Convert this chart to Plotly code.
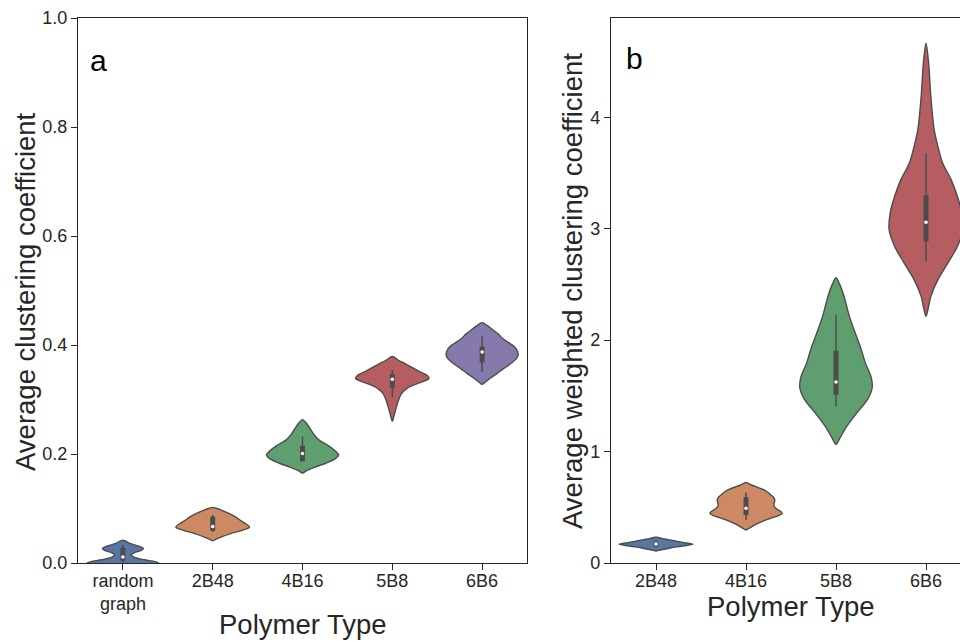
import plotly.graph_objects as go

# ---------------------------------------------------------------------------
# Data
# ---------------------------------------------------------------------------
# Panel a: average clustering coefficient per polymer type
a_categories = ["random<br>graph", "2B48", "4B16", "5B8", "6B6"]

# Kernel density outlines: levels (value axis) and relative density (0..1)
a_random_levels = [0.042, 0.036, 0.031, 0.027, 0.023, 0.019, 0.015, 0.011, 0.006, 0.0, -0.008, -0.018, -0.028, -0.036]
a_random_density = [0.0, 0.19, 0.43, 0.56, 0.50, 0.31, 0.22, 0.30, 0.58, 0.97, 1.0, 0.72, 0.29, 0.0]

a_2b48_levels = [0.102, 0.098, 0.092, 0.085, 0.078, 0.072, 0.066, 0.060, 0.054, 0.048, 0.043, 0.041]
a_2b48_density = [0.0, 0.20, 0.41, 0.61, 0.76, 0.90, 1.0, 0.80, 0.49, 0.24, 0.07, 0.0]

a_4b16_levels = [0.263, 0.255, 0.245, 0.235, 0.225, 0.215, 0.205, 0.198, 0.191, 0.183, 0.176, 0.170, 0.165]
a_4b16_density = [0.0, 0.12, 0.22, 0.32, 0.46, 0.71, 0.90, 0.98, 0.88, 0.63, 0.34, 0.12, 0.0]

a_5b8_levels = [0.379, 0.372, 0.365, 0.358, 0.350, 0.344, 0.339, 0.334, 0.328, 0.320, 0.310, 0.295, 0.280, 0.268, 0.260]
a_5b8_density = [0.0, 0.17, 0.37, 0.56, 0.78, 0.95, 1.0, 0.88, 0.63, 0.39, 0.24, 0.15, 0.085, 0.037, 0.0]

a_6b6_levels = [0.441, 0.435, 0.428, 0.420, 0.412, 0.404, 0.397, 0.390, 0.383, 0.375, 0.366, 0.357, 0.348, 0.340, 0.334, 0.328]
a_6b6_density = [0.0, 0.15, 0.29, 0.44, 0.56, 0.73, 0.88, 0.95, 0.98, 0.93, 0.78, 0.59, 0.41, 0.24, 0.12, 0.0]

# Box statistics for panel a
a_whisker_low = [0.0, 0.057, 0.186, 0.304, 0.351]
a_q1 = [0.004, 0.059, 0.187, 0.322, 0.368]
a_median = [0.011, 0.067, 0.201, 0.337, 0.387]
a_q3 = [0.028, 0.085, 0.215, 0.347, 0.397]
a_whisker_high = [0.033, 0.088, 0.232, 0.354, 0.4165]

# Panel b: average weighted clustering coefficient per polymer type
b_categories = ["2B48", "4B16", "5B8", "6B6"]

b_2b48_levels = [0.231, 0.215, 0.200, 0.185, 0.168, 0.150, 0.135, 0.120, 0.108]
b_2b48_density = [0.0, 0.24, 0.49, 0.73, 1.0, 0.68, 0.39, 0.17, 0.0]

b_4b16_levels = [0.722, 0.700, 0.685, 0.660, 0.635, 0.610, 0.585, 0.560, 0.535, 0.510, 0.485, 0.460, 0.445, 0.425, 0.400, 0.375, 0.350, 0.325, 0.305, 0.296]
b_4b16_density = [0.0, 0.15, 0.27, 0.46, 0.59, 0.68, 0.76, 0.78, 0.76, 0.76, 0.83, 0.95, 0.98, 0.88, 0.66, 0.46, 0.29, 0.15, 0.05, 0.0]

b_5b8_levels = [2.56, 2.50, 2.39, 2.24, 2.09, 1.94, 1.79, 1.67, 1.57, 1.465, 1.345, 1.225, 1.135, 1.08, 1.065]
b_5b8_density = [0.0, 0.10, 0.22, 0.34, 0.49, 0.66, 0.80, 0.95, 0.98, 0.85, 0.56, 0.29, 0.13, 0.04, 0.0]

b_6b6_levels = [4.663, 4.49, 4.19, 3.89, 3.74, 3.59, 3.44, 3.29, 3.14, 2.99, 2.84, 2.69, 2.54, 2.39, 2.27, 2.213]
b_6b6_density = [0.0, 0.07, 0.13, 0.22, 0.32, 0.45, 0.68, 0.85, 0.97, 1.0, 0.85, 0.59, 0.32, 0.13, 0.05, 0.0]

# Box statistics for panel b
b_whisker_low = [0.14, 0.386, 1.404, 2.707]
b_q1 = [0.150, 0.431, 1.509, 2.884]
b_median = [0.170, 0.491, 1.623, 3.058]
b_q3 = [0.188, 0.590, 1.905, 3.300]
b_whisker_high = [0.200, 0.632, 2.228, 3.675]

# ---------------------------------------------------------------------------
# Styling
# ---------------------------------------------------------------------------
W, H = 960, 641
FONT = "Liberation Sans, Arial, sans-serif"
INK = "#262626"
EDGE = "#4c4c4c"
HALF_WIDTH = 0.41  # half width of the widest violin, in category units
a_colors = ["#5875a4", "#cc8963", "#5f9e6e", "#b55d60", "#857aab"]
b_colors = ["#5875a4", "#cc8963", "#5f9e6e", "#b55d60"]

a_profiles = [
    (a_random_levels, a_random_density),
    (a_2b48_levels, a_2b48_density),
    (a_4b16_levels, a_4b16_density),
    (a_5b8_levels, a_5b8_density),
    (a_6b6_levels, a_6b6_density),
]
b_profiles = [
    (b_2b48_levels, b_2b48_density),
    (b_4b16_levels, b_4b16_density),
    (b_5b8_levels, b_5b8_density),
    (b_6b6_levels, b_6b6_density),
]

fig = go.Figure()


def add_violins(profiles, colors, wl, q1, med, q3, wh, xref, yref):
    for i, (levels, dens) in enumerate(profiles):
        # right edge top -> bottom, then left edge bottom -> top
        xs = [i + d * HALF_WIDTH for d in dens] + [i - d * HALF_WIDTH for d in reversed(dens[1:-1])] + [i]
        ys = list(levels) + list(reversed(levels[1:-1])) + [levels[0]]
        fig.add_trace(go.Scatter(
            x=xs, y=ys, xaxis=xref, yaxis=yref, mode="lines",
            line=dict(color=EDGE, width=1.4, shape="spline", smoothing=0.9),
            fill="toself", fillcolor=colors[i], hoverinfo="skip", showlegend=False,
        ))
        # whisker
        fig.add_trace(go.Scatter(
            x=[i, i], y=[wl[i], wh[i]], xaxis=xref, yaxis=yref, mode="lines",
            line=dict(color=EDGE, width=1.5), hoverinfo="skip", showlegend=False,
        ))
        # interquartile box
        fig.add_trace(go.Scatter(
            x=[i, i], y=[q1[i], q3[i]], xaxis=xref, yaxis=yref, mode="lines",
            line=dict(color=EDGE, width=5), hoverinfo="skip", showlegend=False,
        ))
        # median
        fig.add_trace(go.Scatter(
            x=[i], y=[med[i]], xaxis=xref, yaxis=yref, mode="markers",
            marker=dict(color="white", size=3.5, line=dict(width=0)),
            hoverinfo="skip", showlegend=False,
        ))


add_violins(a_profiles, a_colors, a_whisker_low, a_q1, a_median, a_q3, a_whisker_high, "x", "y")
add_violins(b_profiles, b_colors, b_whisker_low, b_q1, b_median, b_q3, b_whisker_high, "x2", "y2")

# plot areas in pixels
AX_L, AX_R = 78, 527
BX_L = 611
TOP, BOTTOM = 18, 563
y_dom = [(H - BOTTOM) / H, (H - TOP) / H]

axis_common = dict(
    showline=True, linecolor=INK, linewidth=1.25,
    ticks="outside", ticklen=6, tickwidth=1.25, tickcolor=INK,
    showgrid=False, zeroline=False, automargin=False,
    tickfont=dict(family=FONT, size=18, color=INK),
)

fig.update_layout(
    width=W, height=H,
    margin=dict(l=0, r=0, t=0, b=0, autoexpand=False),
    paper_bgcolor="white", plot_bgcolor="white",
    xaxis=dict(domain=[AX_L / W, AX_R / W], range=[-0.5, 4.5],
               tickmode="array", tickvals=list(range(len(a_categories))), ticktext=a_categories,
               mirror=True, anchor="y", ticklabelstandoff=-5, **axis_common),
    yaxis=dict(domain=y_dom, range=[0, 1.0], tickmode="array",
               tickvals=[0, 0.2, 0.4, 0.6, 0.8, 1.0], tickformat=".1f",
               mirror=True, anchor="x", **axis_common),
    xaxis2=dict(domain=[BX_L / W, 1.0], range=[-0.5, (W - BX_L) / 90 - 0.5],
                tickmode="array", tickvals=list(range(len(b_categories))), ticktext=b_categories,
                mirror=True, anchor="y2", ticklabelstandoff=-5, **axis_common),
    yaxis2=dict(domain=y_dom, range=[0, 4.89], tickmode="array",
                tickvals=[0, 1, 2, 3, 4], mirror=False, anchor="x2", **axis_common),
)

title_font = dict(family=FONT, size=27.5, color=INK)
annotations = [
    dict(text="Average clustering coefficient", x=25 / W, y=(H - 292) / H, textangle=-90),
    dict(text="Average weighted clustering coefficient", x=572 / W, y=(H - 291) / H, textangle=-90),
    dict(text="Polymer Type", x=302.5 / W, y=(H - 624) / H),
    dict(text="Polymer Type", x=791 / W, y=(H - 606) / H),
]
for ann in annotations:
    fig.add_annotation(xref="paper", yref="paper", showarrow=False,
                       xanchor="center", yanchor="middle", font=title_font, **ann)

panel_font = dict(family=FONT, size=30, color="black")
fig.add_annotation(text="a", xref="paper", yref="paper", x=88 / W, y=(H - 60) / H,
                   xanchor="left", yanchor="middle", showarrow=False, font=panel_font)
fig.add_annotation(text="b", xref="paper", yref="paper", x=624 / W, y=(H - 59) / H,
                   xanchor="left", yanchor="middle", showarrow=False, font=panel_font)

fig.write_html("out.html")
